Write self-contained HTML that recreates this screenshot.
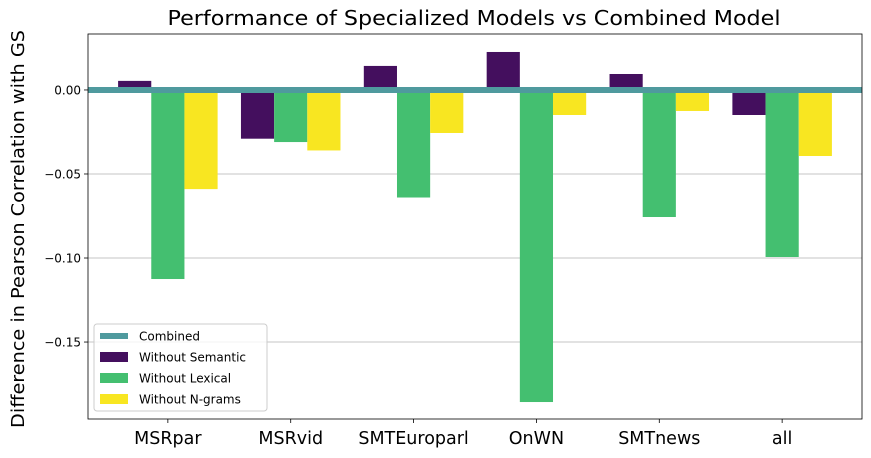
<!DOCTYPE html>
<html><head><meta charset="utf-8"><style>
html,body{margin:0;padding:0;background:#fff;}
svg{display:block;font-family:"DejaVu Sans","Liberation Sans",sans-serif;}
</style></head><body>
<svg id="chart" width="871" height="458" viewBox="0 0 871 458">
<g id="grid"></g>
<g id="bars"></g>
<g id="axes"></g>
<text x="474" y="25" font-size="20.5" text-anchor="middle" textLength="613" lengthAdjust="spacingAndGlyphs">Performance of Specialized Models vs Combined Model</text>
<text transform="translate(24,229) rotate(-90)" font-size="18" text-anchor="middle" textLength="398" lengthAdjust="spacingAndGlyphs">Difference in Pearson Correlation with GS</text>
<g id="legend"></g>
</svg>
<script>
const categories = ["MSRpar","MSRvid","SMTEuroparl","OnWN","SMTnews","all"];
const withoutSemantic = [0.0054,-0.029,0.0143,0.0226,0.0095,-0.0149];
const withoutLexical = [-0.1125,-0.031,-0.064,-0.1857,-0.0756,-0.0994];
const withoutNgrams = [-0.059,-0.036,-0.0256,-0.0149,-0.0125,-0.0393];
const combinedValue = 0;
const yTicks = [0.00,-0.05,-0.10,-0.15];
const yTickLabels = ["0.00","\u22120.05","\u22120.10","\u22120.15"];
const seriesNames = ["Without Semantic","Without Lexical","Without N-grams"];
const colors = ["#440f5e","#44bf70","#f8e621"];

const L=88,R=862,T=34,B=419;
const xMin=-0.65,xMax=5.65,yMin=-0.1958,yMax=0.0333;
const xs=v=>L+(v-xMin)/(xMax-xMin)*(R-L);
const ys=v=>T+(yMax-v)/(yMax-yMin)*(B-T);
const NS="http://www.w3.org/2000/svg";
function mk(tag,attrs,parent,text){const e=document.createElementNS(NS,tag);for(const k in attrs)e.setAttribute(k,attrs[k]);if(text!==undefined)e.textContent=text;parent.appendChild(e);return e;}
const grid=document.getElementById('grid'),bars=document.getElementById('bars'),axes=document.getElementById('axes'),legend=document.getElementById('legend');

yTicks.forEach((t,i)=>{
  const y=ys(t);
  const g=mk('line',{x1:L,x2:R,y1:y,y2:y,stroke:'#b0b0b0','stroke-width':0.8},grid);
  
  
  const tk=mk('line',{x1:L-4,x2:L,y1:y,y2:y,stroke:'#000','stroke-width':0.8},axes);
  
  
  const tl=mk('text',{x:L-7,y:y+4.5,'font-size':12,'text-anchor':'end'},axes,yTickLabels[i]);
  
  
});

const series=[withoutSemantic,withoutLexical,withoutNgrams];
const bw=0.27;
categories.forEach((c,i)=>{
  series.forEach((s,j)=>{
    const cx=i+(j-1)*bw;
    const y0=ys(0),y1=ys(s[i]);
    const r=mk('rect',{x:xs(cx-bw/2),y:Math.min(y0,y1),width:xs(cx+bw/2)-xs(cx-bw/2),height:Math.abs(y1-y0),fill:colors[j]},bars);
    
    
  });
  const x=xs(i);
  const tk=mk('line',{x1:x,x2:x,y1:B,y2:B+4,stroke:'#000','stroke-width':0.8},axes);
  
  
  const tl=mk('text',{x:x,y:B+25,'font-size':17.5,'text-anchor':'middle'},axes,c);
  
  
});
const cl=mk('line',{x1:L,x2:R,y1:ys(combinedValue),y2:ys(combinedValue),stroke:'#4f9a9e','stroke-width':6},bars);


const fr=mk('rect',{x:L,y:T,width:R-L,height:B-T,fill:'none',stroke:'#000','stroke-width':0.8},axes);



const lb=mk('rect',{x:94,y:324,width:173,height:87,rx:3,fill:'#fff','fill-opacity':0.8,stroke:'#ccc','stroke-width':1},legend);


const names=["Combined"].concat(seriesNames);
names.forEach((n,k)=>{
  const y=336+k*21;
  let m;
  if(k===0) m=mk('line',{x1:100,x2:128,y1:y,y2:y,stroke:'#4f9a9e','stroke-width':6},legend);
  else m=mk('rect',{x:100,y:y-5,width:28,height:10,fill:colors[k-1]},legend);
  
  
  const t=mk('text',{x:139,y:y+4.5,'font-size':12},legend,n);
  
  
});
</script>
</body></html>
